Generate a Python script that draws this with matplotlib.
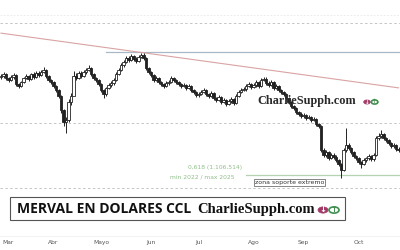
import matplotlib
matplotlib.use("Agg")
import matplotlib.pyplot as plt
from matplotlib.patches import Rectangle, Circle
import numpy as np
import pandas as pd

# ---------------- data ----------------
start_date = "2025-02-26"
holidays = ["2025-03-03", "2025-03-04", "2025-03-24", "2025-04-02", "2025-04-17",
            "2025-04-18", "2025-05-01", "2025-05-02", "2025-06-16", "2025-06-20",
            "2025-07-09", "2025-08-15", "2025-10-10"]
first_open = 1790
close = [1798, 1812, 1784, 1770, 1791, 1805, 1742, 1728, 1756, 1784,
         1798, 1777, 1812, 1791, 1819, 1805, 1826, 1840, 1798, 1770,
         1756, 1728, 1700, 1658, 1560, 1476, 1490, 1616, 1658, 1798,
         1784, 1819, 1798, 1826, 1840, 1854, 1812, 1784, 1770, 1742,
         1700, 1672, 1714, 1735, 1749, 1770, 1812, 1840, 1875, 1896,
         1924, 1910, 1938, 1917, 1903, 1931, 1945, 1924, 1854, 1826,
         1805, 1770, 1784, 1756, 1742, 1728, 1749, 1756, 1784, 1770,
         1756, 1742, 1728, 1735, 1714, 1728, 1700, 1686, 1665, 1672,
         1686, 1700, 1672, 1658, 1679, 1644, 1630, 1651, 1616, 1630,
         1602, 1623, 1637, 1609, 1658, 1686, 1700, 1707, 1728, 1742,
         1721, 1735, 1756, 1728, 1770, 1777, 1749, 1735, 1756, 1714,
         1728, 1700, 1686, 1672, 1644, 1616, 1588, 1574, 1546, 1532,
         1518, 1525, 1504, 1511, 1490, 1497, 1462, 1448, 1280, 1245,
         1266, 1224, 1245, 1231, 1210, 1182, 1140, 1280, 1315, 1294,
         1266, 1238, 1224, 1196, 1182, 1210, 1224, 1238, 1217, 1245,
         1364, 1378, 1392, 1364, 1350, 1329, 1308, 1315, 1287, 1280]
high = [1812, 1826, 1822, 1792, 1804, 1816, 1810, 1752, 1766, 1794,
        1810, 1808, 1822, 1824, 1830, 1832, 1838, 1860, 1848, 1806,
        1780, 1764, 1736, 1708, 1664, 1570, 1512, 1634, 1676, 1830,
        1816, 1834, 1830, 1842, 1854, 1872, 1862, 1820, 1794, 1778,
        1750, 1710, 1724, 1746, 1760, 1782, 1824, 1852, 1888, 1908,
        1936, 1938, 1954, 1948, 1928, 1944, 1962, 1956, 1930, 1864,
        1836, 1814, 1796, 1794, 1766, 1752, 1760, 1768, 1796, 1794,
        1780, 1766, 1752, 1746, 1744, 1739, 1736, 1710, 1694, 1684,
        1698, 1712, 1710, 1682, 1690, 1688, 1654, 1662, 1660, 1642,
        1640, 1634, 1648, 1646, 1669, 1698, 1712, 1720, 1740, 1754,
        1752, 1746, 1768, 1766, 1782, 1794, 1788, 1760, 1768, 1764,
        1740, 1736, 1710, 1696, 1680, 1654, 1624, 1598, 1584, 1556,
        1544, 1536, 1534, 1522, 1520, 1508, 1504, 1472, 1452, 1294,
        1279, 1276, 1256, 1256, 1242, 1220, 1192, 1294, 1435, 1326,
        1304, 1276, 1248, 1234, 1206, 1222, 1234, 1249, 1248, 1256,
        1376, 1396, 1420, 1402, 1374, 1360, 1339, 1326, 1324, 1298]
low = [1778, 1786, 1772, 1758, 1760, 1780, 1731, 1711, 1718, 1746,
       1774, 1766, 1768, 1780, 1781, 1794, 1796, 1816, 1786, 1758,
       1744, 1716, 1686, 1646, 1542, 1451, 1400, 1476, 1596, 1708,
       1772, 1774, 1786, 1788, 1814, 1830, 1801, 1772, 1758, 1731,
       1688, 1641, 1661, 1704, 1724, 1738, 1761, 1802, 1830, 1864,
       1886, 1898, 1900, 1906, 1891, 1894, 1921, 1912, 1842, 1814,
       1794, 1758, 1760, 1744, 1731, 1716, 1718, 1738, 1746, 1758,
       1744, 1731, 1716, 1718, 1702, 1704, 1688, 1674, 1652, 1654,
       1662, 1676, 1661, 1646, 1648, 1632, 1618, 1620, 1604, 1606,
       1591, 1592, 1612, 1598, 1600, 1648, 1676, 1690, 1696, 1718,
       1710, 1712, 1724, 1716, 1718, 1760, 1738, 1724, 1726, 1702,
       1704, 1688, 1674, 1660, 1632, 1604, 1576, 1562, 1534, 1520,
       1506, 1506, 1492, 1494, 1478, 1480, 1450, 1436, 1266, 1232,
       1234, 1212, 1214, 1220, 1198, 1170, 1085, 1131, 1268, 1282,
       1254, 1226, 1212, 1184, 1156, 1172, 1198, 1212, 1206, 1206,
       1236, 1352, 1366, 1352, 1338, 1318, 1296, 1296, 1276, 1268]

month_names = {3: "Mar", 4: "Abr", 5: "Mayo", 6: "Jun", 7: "Jul", 8: "Ago", 9: "Sep", 10: "Oct"}

trend_start = (0, 2098)      # (bar index, price)
trend_end = (159, 1715)
resistance_level = 1966
resistance_from = 42
fib_level = 1106.514
fib_from = 98
dashed_levels = [2169, 1469, 1014]
faint_level = 2225

# ---------------- figure ----------------
W, H = 400, 250
fig = plt.figure(figsize=(W / 100, H / 100), dpi=100)
fig.patch.set_facecolor("white")
ax_bottom_px = 236
ax = fig.add_axes([0, 1 - ax_bottom_px / H, 1, ax_bottom_px / H])
ax.set_facecolor("white")

n = len(close)
dates = pd.bdate_range(start=start_date, periods=n + 30, freq="C", holidays=holidays)[:n]
idx = np.arange(n)
opens = np.array([first_open] + close[:-1], dtype=float)
closes = np.array(close, dtype=float)
highs = np.array(high, dtype=float)
lows = np.array(low, dtype=float)

ax.set_xlim(-0.4, n - 0.4)
ax.set_ylim(2330 - 7 * ax_bottom_px, 2330)

# horizontal reference levels
ax.axhline(faint_level, color="#e8e8e8", lw=0.6, ls=(0, (2, 2)), zorder=1)
for lv in dashed_levels:
    ax.axhline(lv, color="#c4c4c4", lw=0.7, ls=(0, (2.5, 2.5)), zorder=1)
ax.plot([resistance_from, n], [resistance_level, resistance_level], color="#a9b8c8", lw=0.9, zorder=2)
ax.plot([fib_from, n], [fib_level, fib_level], color="#b5d3b0", lw=0.9, zorder=2)
ax.plot([trend_start[0], trend_end[0]], [trend_start[1], trend_end[1]], color="#d9a3a3", lw=0.8, zorder=2)

# candles
up = closes >= opens
ax.vlines(idx, lows, highs, color="#222222", lw=0.7, zorder=3)
body_lo = np.minimum(opens, closes)
body_h = np.maximum(np.abs(closes - opens), 7)
ax.bar(idx[up], body_h[up], bottom=body_lo[up], width=0.85, color="white",
       edgecolor="#222222", linewidth=0.6, zorder=4)
ax.bar(idx[~up], body_h[~up], bottom=body_lo[~up], width=0.85, color="#222222",
       edgecolor="#222222", linewidth=0.6, zorder=4)

# month ticks
ticks, labels = [], []
seen = set()
for i, d in enumerate(dates):
    if d.month not in seen:
        seen.add(d.month)
        if d.month in month_names and (d.day <= 7):
            ticks.append(i)
            labels.append(month_names[d.month])
ax.set_xticks(ticks)
ax.set_xticklabels(labels, fontsize=4.3, color="#555555")
ax.tick_params(axis="x", length=0, pad=3)
ax.set_yticks([])
for s in ["top", "left", "right"]:
    ax.spines[s].set_visible(False)
ax.spines["bottom"].set_color("#f0f0f0")
ax.spines["bottom"].set_linewidth(0.6)

def fx(px):
    return px / W

def fy(py):
    return 1 - py / H

# annotations
fig.text(fx(242), fy(168), "0,618 (1.106,514)", fontsize=4.3, color="#8fbf88",
         ha="right", va="center")
fig.text(fx(235), fy(177), "min 2022 / max 2025", fontsize=4.3, color="#8fbf88",
         ha="right", va="center")
fig.text(fx(289.5), fy(182.5), "zona soporte extremo", fontsize=4.5, color="#333333",
         ha="center", va="center",
         bbox=dict(boxstyle="square,pad=0.15", fc="white", ec="#555555", lw=0.5))

# watermark
fig.text(fx(257), fy(101), "CharlieSupph.com", fontsize=8.8, fontweight="bold",
         family="Liberation Serif", color="#2a2a2a", ha="left", va="center", zorder=6)

def icons(x0, y0, r, fs):
    c1 = Circle((fx(x0), fy(y0)), r / W, transform=fig.transFigure, fc="#a33a66",
                ec="#a33a66", lw=0.5, zorder=7)
    c2 = Circle((fx(x0 + 2 * r + 1), fy(y0)), r / W, transform=fig.transFigure, fc="white",
                ec="#3f8f4f", lw=1.2, zorder=7)
    fig.add_artist(c1)
    fig.add_artist(c2)
    fig.text(fx(x0), fy(y0), "↓", color="white", fontsize=fs, ha="center", va="center",
             fontweight="bold", zorder=8)
    fig.text(fx(x0 + 2 * r + 1), fy(y0), "↑", color="#3f8f4f", fontsize=fs, ha="center",
             va="center", fontweight="bold", zorder=8)

icons(367, 102, 3.3, 4)

# title box
fig.add_artist(Rectangle((fx(10), fy(220)), fx(345) - fx(10), fy(197) - fy(220),
                         transform=fig.transFigure, fc="white", ec="#555555", lw=0.8, zorder=5))
fig.text(fx(17), fy(209), "MERVAL EN DOLARES CCL", fontsize=10, fontweight="bold",
         family="Open Sans", color="#111111", ha="left", va="center", zorder=6)
fig.text(fx(197), fy(209), "CharlieSupph.com", fontsize=10.5, fontweight="bold",
         family="Liberation Serif", color="#111111", ha="left", va="center", zorder=6)
icons(323, 210, 5, 6)

fig.savefig("out.png", dpi=100, facecolor="white")
